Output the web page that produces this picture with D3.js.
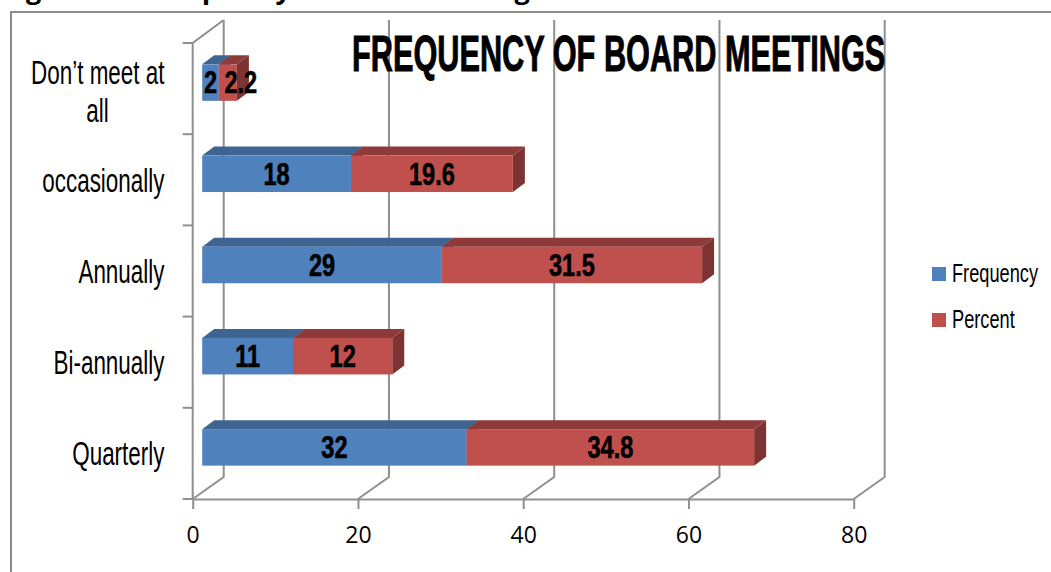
<!DOCTYPE html>
<html>
<head>
<meta charset="utf-8">
<script src="https://d3js.org/d3.v7.min.js"></script>
<style>
html, body { margin: 0; padding: 0; background: #fff; overflow: hidden; }
text { fill: #000; }
</style>
</head>
<body>
<svg id="chart" width="1051" height="572"></svg>
<script>
// values, top of the chart first
const categories = ["Don\u2019t meet at all", "occasionally", "Annually", "Bi-annually", "Quarterly"];
const frequency = [2, 18, 29, 11, 32];
const percent = [2.2, 19.6, 31.5, 12, 34.8];
const seriesNames = ["Frequency", "Percent"];
const xTicks = [0, 20, 40, 60, 80];

const narrow = "'Liberation Sans Narrow', 'Liberation Sans', sans-serif";
const gridColor = "#8f8f8f";
const colors = {
    Frequency: { face: "#4f81bd", top: "#3e6491", side: "#35567d" },
    Percent: { face: "#c0504d", top: "#8e3a38", side: "#7d3331" }
};

// wall depth of the fake 3d box, and how far the bars sit off the axis
const wallX = 31, wallY = 22;
const barOffX = 9.5, barOffY = 6;
const depthX = 12, depthY = 9;

const svg = d3.select("#chart");
const x = d3.scaleLinear().domain([0, 80]).range([192.7, 853.7]);
const y = d3.scaleBand().domain(categories).range([43, 499]).paddingInner(0.6).paddingOuter(0.3);
const baseY = 499;

// squeeze text horizontally, there is no condensed display font here
function condense(sel, factor) {
    sel.each(function () {
        const w = this.getComputedTextLength();
        d3.select(this).attr("textLength", w * factor).attr("lengthAdjust", "spacingAndGlyphs");
    });
}

// outer frame of the pasted picture
svg.append("path")
    .attr("d", "M11,572V12H1051")
    .attr("fill", "none").attr("stroke", "#8c8c8c").attr("stroke-width", 2);

// caption cut off by the top edge
svg.append("text").attr("x", 3).attr("y", -1)
    .attr("font-family", "'Open Sans', sans-serif").attr("font-weight", 700).attr("font-size", 27)
    .text("Figure");
svg.append("text").attr("x", 150).attr("y", -1)
    .attr("font-family", "'Open Sans', sans-serif").attr("font-weight", 700).attr("font-size", 27)
    .text("Frequency of board meetings");

// back wall gridlines
svg.append("g").selectAll("path").data(xTicks).enter().append("path")
    .attr("d", d => `M${x(d)},${baseY}L${x(d) + wallX},${baseY - wallY}V20`)
    .attr("fill", "none").attr("stroke", gridColor).attr("stroke-width", 2);

// bottom axis
const xAxis = svg.append("g")
    .attr("transform", `translate(0,${baseY})`)
    .call(d3.axisBottom(x).tickValues(xTicks).tickSize(10).tickPadding(18).tickSizeOuter(0));
xAxis.selectAll("line").attr("stroke", gridColor).attr("stroke-width", 2);
xAxis.select(".domain").attr("stroke", gridColor).attr("stroke-width", 2);
xAxis.selectAll("text")
    .attr("font-family", "'Open Sans', sans-serif").attr("font-size", 23);

// left axis, ticks sit between the categories
const leftTicks = categories.map(c => y(c) - y.step() * y.paddingInner() / 2).concat(baseY);
svg.append("path")
    .attr("d", `M${x(0)},${baseY}V43L${x(0) + wallX},20`)
    .attr("fill", "none").attr("stroke", gridColor).attr("stroke-width", 2);
svg.append("g").selectAll("line").data(leftTicks).enter().append("line")
    .attr("x1", x(0) - 10).attr("x2", x(0))
    .attr("y1", d => d).attr("y2", d => d)
    .attr("stroke", gridColor).attr("stroke-width", 2);

// stacked bars
const table = categories.map((c, i) => ({ category: c, Frequency: frequency[i], Percent: percent[i] }));
const stacked = d3.stack().keys(seriesNames)(table);
const px = v => x(v) + barOffX;

stacked.forEach(layer => {
    const g = svg.append("g");
    const c = colors[layer.key];
    const bars = g.selectAll("g").data(layer).enter().append("g");
    const top = d => y(d.data.category) - barOffY;
    // side
    bars.append("path").attr("fill", c.side)
        .attr("d", d => `M${px(d[1])},${top(d)}l${depthX},${-depthY}v${y.bandwidth()}l${-depthX},${depthY}z`);
    // top
    bars.append("path").attr("fill", c.top)
        .attr("d", d => `M${px(d[0])},${top(d)}l${depthX},${-depthY}H${px(d[1]) + depthX}l${-depthX},${depthY}z`);
    // front
    bars.append("rect").attr("fill", c.face)
        .attr("x", d => px(d[0])).attr("y", top)
        .attr("width", d => px(d[1]) - px(d[0])).attr("height", y.bandwidth());
});

// data labels
stacked.forEach(layer => {
    const labels = svg.append("g").selectAll("text").data(layer).enter().append("text")
        .attr("x", d => {
            const mid = (px(d[0]) + px(d[1])) / 2;
            // the smallest red label gets pushed right by the chart
            return d[1] - d[0] === 2.2 ? mid + 13 : mid;
        })
        .attr("y", d => y(d.data.category) - barOffY + 29)
        .attr("text-anchor", "middle")
        .attr("font-family", narrow).attr("font-weight", 700).attr("font-size", 31)
        .attr("stroke", "#000").attr("stroke-width", 0.6)
        .text(d => +(d[1] - d[0]).toFixed(1));
    condense(labels, 0.76);
});

// category labels
const catLabels = svg.append("g").attr("font-family", narrow).attr("font-size", 33);
categories.forEach(c => {
    const lines = c === categories[0] ? ["Don\u2019t meet at", "all"] : [c];
    const mid = y(c) + y.bandwidth() / 2;
    lines.forEach((line, i) => {
        const t = catLabels.append("text")
            .attr("text-anchor", lines.length > 1 && i === 1 ? "middle" : "end")
            .attr("x", lines.length > 1 && i === 1 ? 97.5 : 164.5)
            .attr("y", lines.length > 1 ? mid + (i === 0 ? -5 : 33) : mid + 12)
            .text(line);
        condense(t, 0.68);
    });
});

// chart title
const title = svg.append("text")
    .attr("x", 352).attr("y", 71)
    .attr("font-family", narrow).attr("font-weight", 700).attr("font-size", 50)
    .attr("stroke", "#000").attr("stroke-width", 1)
    .text("FREQUENCY OF BOARD MEETINGS");
condense(title, 0.614);

// legend
const legend = svg.append("g").selectAll("g").data(seriesNames).enter().append("g")
    .attr("transform", (d, i) => `translate(932,${267 + i * 46})`);
legend.append("rect")
    .attr("width", 14).attr("height", 14)
    .attr("fill", d => colors[d].face);
const legendText = legend.append("text")
    .attr("x", 20).attr("y", 15)
    .attr("font-family", narrow).attr("font-size", 26)
    .text(d => d);
condense(legendText, 0.7);
</script>
</body>
</html>
